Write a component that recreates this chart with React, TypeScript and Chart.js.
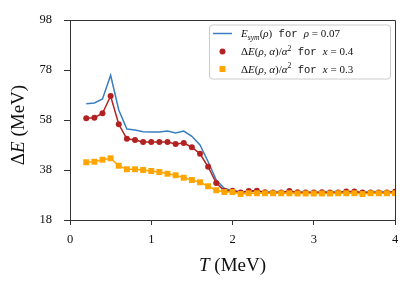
import React, { useEffect, useRef } from "react";
import { Chart, registerables } from "chart.js";

Chart.register(...registerables);

// Temperature grid (MeV)
const temperatures = [
  0.2, 0.3, 0.4, 0.5, 0.6, 0.7, 0.8, 0.9, 1.0, 1.1, 1.2, 1.3, 1.4, 1.5, 1.6, 1.7, 1.8, 1.9, 2.0,
  2.1, 2.2, 2.3, 2.4, 2.5, 2.6, 2.7, 2.8, 2.9, 3.0, 3.1, 3.2, 3.3, 3.4, 3.5, 3.6, 3.7, 3.8, 3.9, 4.0,
];

// E_sym(rho) for rho = 0.07
const esymValues = [
  64.5, 64.8, 66.4, 75.9, 62.0, 54.4, 54.0, 53.3, 53.2, 53.2, 53.6, 52.8, 53.6, 51.5, 48.0, 41.3, 34.0, 30.6, 29.8,
  29.3, 29.4, 29.5, 29.2, 29.2, 29.2, 29.4, 29.2, 29.2, 29.1, 29.2, 29.2, 29.2, 29.2, 29.2, 29.1, 29.2, 29.2, 29.2, 29.3,
];

// ΔE(ρ,α)/α² for x = 0.4
const deltaX04 = [
  58.7, 58.9, 60.7, 67.6, 56.3, 50.5, 50.0, 49.2, 49.2, 49.2, 49.2, 48.4, 48.8, 47.1, 44.5, 39.3, 32.8, 29.7, 29.7,
  29.0, 29.6, 29.7, 29.1, 29.0, 29.0, 29.6, 29.1, 29.0, 29.0, 29.1, 29.0, 29.0, 29.4, 29.4, 29.0, 29.0, 29.0, 29.0, 29.3,
];

// ΔE(ρ,α)/α² for x = 0.3
const deltaX03 = [
  41.1, 41.3, 42.1, 42.7, 39.7, 38.3, 38.3, 38.0, 37.6, 37.2, 36.5, 35.9, 34.9, 34.0, 33.1, 31.5, 29.9, 29.2, 29.2,
  28.4, 28.7, 28.7, 28.7, 28.7, 28.7, 28.7, 28.6, 28.6, 28.6, 28.6, 28.6, 28.7, 28.7, 28.7, 28.4, 28.7, 28.7, 28.7, 28.7,
];

const xTicks = [0, 1, 2, 3, 4];
const yTicks = [18, 38, 58, 78, 98];

const BLUE = "#3b7ebf";
const RED = "#b22222";
const ORANGE = "#ffa500";

const SERIF = '"Liberation Serif", "DejaVu Serif", serif';
const MONO = '"Liberation Mono", "DejaVu Sans Mono", monospace';

type Seg = { t: string; font: string; dy?: number };

function segsWidth(ctx: CanvasRenderingContext2D, segs: Seg[]) {
  let w = 0;
  for (const s of segs) {
    ctx.font = s.font;
    w += ctx.measureText(s.t).width;
  }
  return w;
}

function drawSegs(ctx: CanvasRenderingContext2D, segs: Seg[], x: number, y: number) {
  ctx.textBaseline = "alphabetic";
  ctx.textAlign = "left";
  let cx = x;
  for (const s of segs) {
    ctx.font = s.font;
    ctx.fillText(s.t, cx, y + (s.dy || 0));
    cx += ctx.measureText(s.t).width;
  }
}

const overlayPlugin = {
  id: "overlay",
  afterDraw(chart: any) {
    const ctx: CanvasRenderingContext2D = chart.ctx;
    const a = chart.chartArea;
    ctx.save();
    // frame (top & right spines)
    ctx.strokeStyle = "#333";
    ctx.lineWidth = 1;
    ctx.beginPath();
    ctx.moveTo(a.left, a.top + 0.5);
    ctx.lineTo(a.right + 0.5, a.top + 0.5);
    ctx.lineTo(a.right + 0.5, a.bottom);
    ctx.stroke();

    ctx.fillStyle = "#111";
    // x title
    const rm19 = `19px ${SERIF}`;
    const it19 = `italic 19px ${SERIF}`;
    const xt: Seg[] = [
      { t: "T", font: it19 },
      { t: " (MeV)", font: rm19 },
    ];
    const xw = segsWidth(ctx, xt);
    drawSegs(ctx, xt, (a.left + a.right) / 2 - xw / 2, 271);

    // y title
    const yt: Seg[] = [
      { t: "Δ", font: rm19 },
      { t: "E", font: it19 },
      { t: " (MeV)", font: rm19 },
    ];
    const yw = segsWidth(ctx, yt);
    ctx.save();
    ctx.translate(24, 125);
    ctx.rotate(-Math.PI / 2);
    drawSegs(ctx, yt, -yw / 2, 0);
    ctx.restore();

    // legend
    const bx = a.right - 186;
    const by = a.top + 4.5;
    const bw = 181;
    const bh = 54;
    ctx.beginPath();
    (ctx as any).roundRect(bx + 0.5, by + 0.5, bw, bh, 3);
    ctx.fillStyle = "rgba(255,255,255,0.85)";
    ctx.fill();
    ctx.strokeStyle = "#cccccc";
    ctx.lineWidth = 1;
    ctx.stroke();

    const fs = 11;
    const rm = `${fs}px ${SERIF}`;
    const it = `italic ${fs}px ${SERIF}`;
    const sm = `${fs * 0.7}px ${SERIF}`;
    const smIt = `italic ${fs * 0.7}px ${SERIF}`;
    const mono = `${fs - 0.5}px ${MONO}`;
    const rows: Seg[][] = [
      [
        { t: "E", font: it },
        { t: "sym", font: smIt, dy: 2.5 },
        { t: "(", font: rm },
        { t: "ρ", font: it },
        { t: ")", font: rm },
        { t: " for ", font: mono },
        { t: "ρ", font: it },
        { t: " = 0.07", font: rm },
      ],
      [
        { t: "Δ", font: rm },
        { t: "E", font: it },
        { t: "(", font: rm },
        { t: "ρ", font: it },
        { t: ", ", font: rm },
        { t: "α", font: it },
        { t: ")/", font: rm },
        { t: "α", font: it },
        { t: "2", font: sm, dy: -4.5 },
        { t: " for ", font: mono },
        { t: "x", font: it },
        { t: " = 0.4", font: rm },
      ],
      [
        { t: "Δ", font: rm },
        { t: "E", font: it },
        { t: "(", font: rm },
        { t: "ρ", font: it },
        { t: ", ", font: rm },
        { t: "α", font: it },
        { t: ")/", font: rm },
        { t: "α", font: it },
        { t: "2", font: sm, dy: -4.5 },
        { t: " for ", font: mono },
        { t: "x", font: it },
        { t: " = 0.3", font: rm },
      ],
    ];
    const rowY = [by + 9, by + 27, by + 44.5];
    // handles
    ctx.strokeStyle = BLUE;
    ctx.lineWidth = 1.5;
    ctx.beginPath();
    ctx.moveTo(bx + 4, rowY[0]);
    ctx.lineTo(bx + 23, rowY[0]);
    ctx.stroke();
    ctx.fillStyle = RED;
    ctx.beginPath();
    ctx.arc(bx + 13.5, rowY[1], 3, 0, Math.PI * 2);
    ctx.fill();
    ctx.fillStyle = ORANGE;
    ctx.fillRect(bx + 10.5, rowY[2] - 3, 6, 6);

    ctx.fillStyle = "#111";
    rows.forEach((r, i) => drawSegs(ctx, r, bx + 32, rowY[i] + 3.5));
    ctx.restore();
  },
};

export default function App() {
  const canvasRef = useRef<HTMLCanvasElement | null>(null);

  useEffect(() => {
    document.body.style.margin = "0";
    const canvas = canvasRef.current;
    if (!canvas) return;
    const toPts = (vals: number[]) => vals.map((v, i) => ({ x: temperatures[i], y: v }));
    const chart = new Chart(canvas, {
      type: "line",
      data: {
        datasets: [
          {
            label: "E_sym(ρ) for ρ = 0.07",
            data: toPts(esymValues),
            borderColor: BLUE,
            borderWidth: 1.5,
            pointRadius: 0,
            tension: 0,
            order: 3,
          },
          {
            label: "ΔE(ρ,α)/α² for x = 0.4",
            data: toPts(deltaX04),
            borderColor: RED,
            backgroundColor: RED,
            borderWidth: 1.5,
            pointRadius: 3,
            pointBorderWidth: 0,
            pointStyle: "circle",
            tension: 0,
            order: 2,
          },
          {
            label: "ΔE(ρ,α)/α² for x = 0.3",
            data: toPts(deltaX03),
            borderColor: ORANGE,
            backgroundColor: ORANGE,
            borderWidth: 1.5,
            pointRadius: 4.2,
            pointBorderWidth: 0,
            pointStyle: "rect",
            tension: 0,
            order: 1,
          },
        ],
      },
      options: {
        animation: false,
        responsive: false,
        events: [],
        layout: { padding: { top: 20, right: 20, left: 0, bottom: 0 } },
        plugins: { legend: { display: false }, tooltip: { enabled: false } },
        scales: {
          x: {
            type: "linear",
            min: 0,
            max: 4,
            afterBuildTicks: (scale: any) => {
              scale.ticks = xTicks.map((v) => ({ value: v }));
            },
            afterFit: (scale: any) => {
              scale.height = 67;
            },
            grid: { drawOnChartArea: false, drawTicks: true, tickLength: 5, color: "#333", tickWidth: 1 },
            border: { display: true, color: "#333", width: 1 },
            ticks: {
              color: "#111",
              padding: 7,
              font: { family: SERIF, size: 12.5 },
              callback: (v: any) => String(v),
            },
          },
          y: {
            type: "linear",
            min: 18,
            max: 98,
            afterBuildTicks: (scale: any) => {
              scale.ticks = yTicks.map((v) => ({ value: v }));
            },
            afterFit: (scale: any) => {
              scale.width = 70;
            },
            grid: { drawOnChartArea: false, drawTicks: true, tickLength: 6, color: "#333", tickWidth: 1 },
            border: { display: true, color: "#333", width: 1 },
            ticks: {
              color: "#111",
              padding: 12,
              font: { family: SERIF, size: 12.5 },
              callback: (v: any) => String(v),
            },
          },
        },
      },
      plugins: [overlayPlugin],
    } as any);
    return () => chart.destroy();
  }, []);

  return (
    <div style={{ width: 415, height: 287 }}>
      <canvas ref={canvasRef} width={415} height={287} style={{ display: "block" }} />
    </div>
  );
}
